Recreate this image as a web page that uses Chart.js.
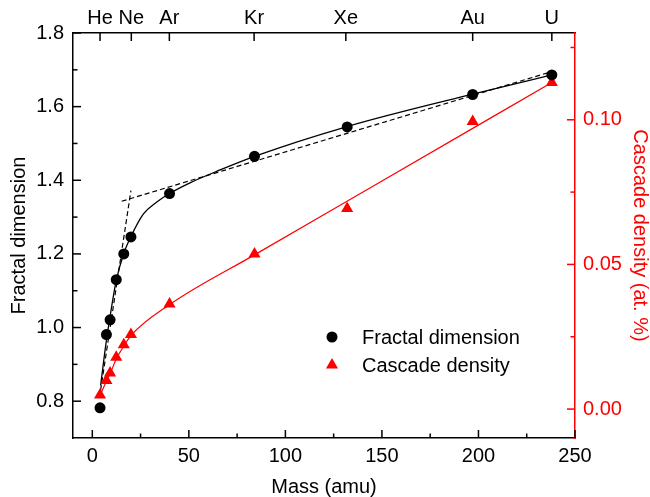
<!DOCTYPE html>
<html>
<head>
<meta charset="utf-8">
<title>Fractal dimension and cascade density vs mass</title>
<script src="https://cdn.jsdelivr.net/npm/chart.js@4.4.1/dist/chart.umd.min.js"></script>
<style>
  html, body { margin: 0; padding: 0; background: #fff; }
  #wrap { width: 650px; height: 497px; }
</style>
</head>
<body>
<div id="wrap"><canvas id="fractalchart" width="650" height="497"></canvas></div>
<script>
// measured points, mass in amu
const massPoints = [4, 7.3, 9.2, 12.4, 16.3, 20, 40, 84, 132, 197, 238];
const fractalDim = [0.782, 0.981, 1.021, 1.130, 1.200, 1.246, 1.364, 1.465, 1.545, 1.633, 1.686];
const cascadeDensity = [0.0049, 0.0099, 0.0125, 0.0179, 0.0222, 0.0258, 0.0363, 0.0536, 0.0693, 0.0994, 0.1129];

// fitted curves
const fitMass = [4.3, 7.3, 9.2, 12.4, 16.3, 20, 26.4, 33.4, 40, 50.6, 66.2, 84, 132, 197, 238];
const fitFractal = [0.843, 0.965, 1.030, 1.128, 1.201, 1.247, 1.308, 1.341, 1.364, 1.393, 1.428, 1.465, 1.546, 1.634, 1.686];
const steepMass = [4.3, 20];
const steepFractal = [0.83, 1.372];
const flatMass = [15.2, 236];
const flatFractal = [1.343, 1.692];
const cascadeFitMass = [4, 7.3, 9.2, 12.4, 16.3, 20, 40, 84, 144, 238];
const cascadeFit = [0.0047, 0.0096, 0.0122, 0.0173, 0.0218, 0.0254, 0.0361, 0.0533, 0.0765, 0.1129];

// axes
const massTicks = [0, 50, 100, 150, 200, 250];
const massMinor = [25, 75, 125, 175, 225];
const elementMass = [4, 20.2, 39.9, 83.8, 131.3, 197, 238];
const elementNames = ['He', 'Ne', 'Ar', 'Kr', 'Xe', 'Au', 'U'];
const fractalTicks = [0.8, 1.0, 1.2, 1.4, 1.6, 1.8];
const fractalMinor = [0.9, 1.1, 1.3, 1.5, 1.7];
const densityTicks = [0, 0.05, 0.10];
const densityMinor = [0.025, 0.075, 0.125];

const RED = 'rgb(255, 0, 0)';
const pairs = (xs, ys) => xs.map((x, i) => ({x: x, y: ys[i]}));

Chart.defaults.font.family = '"Liberation Sans", Arial, sans-serif';
Chart.defaults.font.size = 20;
Chart.defaults.color = '#000';

// inward tick marks like the original plot
const inTicks = {
  id: 'inTicks',
  afterDraw(chart) {
    const {ctx, chartArea: a, scales} = chart;
    ctx.save();
    ctx.lineWidth = 1.5;
    const mark = (vals, len, color, fn) => {
      ctx.strokeStyle = color;
      vals.forEach(v => { ctx.beginPath(); fn(v, len); ctx.stroke(); });
    };
    const bottom = (v, len) => { const p = scales.x.getPixelForValue(v); ctx.moveTo(p, a.bottom); ctx.lineTo(p, a.bottom - len); };
    const top = (v, len) => { const p = scales.x2.getPixelForValue(v); ctx.moveTo(p, a.top); ctx.lineTo(p, a.top + len); };
    const left = (v, len) => { const p = scales.y.getPixelForValue(v); ctx.moveTo(a.left, p); ctx.lineTo(a.left + len, p); };
    const right = (v, len) => { const p = scales.y2.getPixelForValue(v); ctx.moveTo(a.right, p); ctx.lineTo(a.right - len, p); };
    mark(massTicks, 8, '#000', bottom);
    mark(massMinor, 4.5, '#000', bottom);
    mark(elementMass, 8, '#000', top);
    mark(fractalTicks, 8, '#000', left);
    mark(fractalMinor, 4.5, '#000', left);
    mark(densityTicks, 8, RED, right);
    mark(densityMinor, 4.5, RED, right);
    ctx.restore();
  }
};

// legend inside the plot
const key = {
  id: 'key',
  afterDraw(chart) {
    const {ctx, chartArea: a} = chart;
    ctx.save();
    ctx.font = '20px "Liberation Sans", Arial, sans-serif';
    ctx.textBaseline = 'middle';
    ctx.textAlign = 'left';
    let y = a.top + 304;
    chart.data.datasets.filter(d => d.inKey).forEach(d => {
      ctx.fillStyle = d.backgroundColor;
      ctx.strokeStyle = d.borderColor;
      Chart.helpers.drawPoint(ctx, {pointStyle: d.pointStyle, radius: d.pointRadius, rotation: 0, borderWidth: 0}, a.left + 259, y);
      ctx.fillStyle = '#000';
      ctx.fillText(d.label, a.left + 289, y + 1);
      y += 28;
    });
    ctx.restore();
  }
};

new Chart(document.getElementById('fractalchart'), {
  type: 'scatter',
  data: {
    datasets: [
      {
        label: 'Fractal dimension',
        inKey: true,
        data: pairs(massPoints, fractalDim),
        yAxisID: 'y',
        pointStyle: 'circle',
        pointRadius: 5.5,
        backgroundColor: '#000',
        borderColor: '#000',
        borderWidth: 0,
        order: 0
      },
      {
        label: 'Cascade density',
        inKey: true,
        data: pairs(massPoints, cascadeDensity),
        yAxisID: 'y2',
        pointStyle: 'triangle',
        pointRadius: 7,
        backgroundColor: RED,
        borderColor: RED,
        borderWidth: 0,
        order: 0
      },
      {
        label: 'fit',
        data: pairs(fitMass, fitFractal),
        yAxisID: 'y',
        showLine: true,
        pointRadius: 0,
        borderColor: '#000',
        borderWidth: 1.3,
        cubicInterpolationMode: 'monotone',
        order: 1
      },
      {
        label: 'steep',
        data: pairs(steepMass, steepFractal),
        yAxisID: 'y',
        showLine: true,
        pointRadius: 0,
        borderColor: '#000',
        borderWidth: 1.2,
        borderDash: [5, 3],
        order: 1
      },
      {
        label: 'flat',
        data: pairs(flatMass, flatFractal),
        yAxisID: 'y',
        showLine: true,
        pointRadius: 0,
        borderColor: '#000',
        borderWidth: 1.2,
        borderDash: [5, 3],
        order: 1
      },
      {
        label: 'density fit',
        data: pairs(cascadeFitMass, cascadeFit),
        yAxisID: 'y2',
        showLine: true,
        pointRadius: 0,
        borderColor: RED,
        borderWidth: 1.2,
        cubicInterpolationMode: 'monotone',
        order: 1
      }
    ]
  },
  options: {
    responsive: false,
    animation: false,
    events: [],
    layout: { padding: 0 },
    plugins: {
      legend: { display: false },
      tooltip: { enabled: false }
    },
    scales: {
      x: {
        type: 'linear',
        position: 'bottom',
        min: -10,
        max: 250,
        afterBuildTicks: s => { s.ticks = massTicks.map(v => ({value: v})); },
        afterFit: s => { s.height = 59; },
        grid: { display: false, drawTicks: false },
        border: { color: '#000', width: 1.5 },
        ticks: { padding: 6, maxRotation: 0, autoSkip: false },
        title: { display: true, text: 'Mass (amu)', font: { size: 20, lineHeight: 1 }, padding: 0 }
      },
      x2: {
        type: 'linear',
        position: 'top',
        min: -10,
        max: 250,
        afterBuildTicks: s => { s.ticks = elementMass.map(v => ({value: v})); },
        afterFit: s => { s.height = 33; },
        grid: { display: false, drawTicks: false },
        border: { color: '#000', width: 1.5 },
        ticks: { padding: 3, maxRotation: 0, autoSkip: false, callback: (v, i) => elementNames[i] }
      },
      y: {
        type: 'linear',
        position: 'left',
        min: 0.7,
        max: 1.8,
        afterBuildTicks: s => { s.ticks = fractalTicks.map(v => ({value: v})); },
        afterFit: s => { s.width = 73; },
        grid: { display: false, drawTicks: false },
        border: { color: '#000', width: 1.5 },
        ticks: { padding: 9, autoSkip: false, callback: v => v.toFixed(1) },
        title: { display: true, text: 'Fractal dimension', font: { size: 20, lineHeight: 1 }, padding: { top: 9, bottom: 0 } }
      },
      y2: {
        type: 'linear',
        position: 'right',
        min: -0.01,
        max: 0.13,
        afterBuildTicks: s => { s.ticks = densityTicks.map(v => ({value: v})); },
        afterFit: s => { s.width = 75; },
        grid: { display: false, drawTicks: false },
        border: { color: RED, width: 1.5 },
        ticks: { color: RED, padding: 8, autoSkip: false, callback: v => v.toFixed(2) },
        title: { display: true, text: 'Cascade density (at. %)', color: RED, font: { size: 20, lineHeight: 1 }, padding: { top: 0, bottom: 0 } }
      }
    }
  },
  plugins: [inTicks, key]
});
</script>
</body>
</html>
